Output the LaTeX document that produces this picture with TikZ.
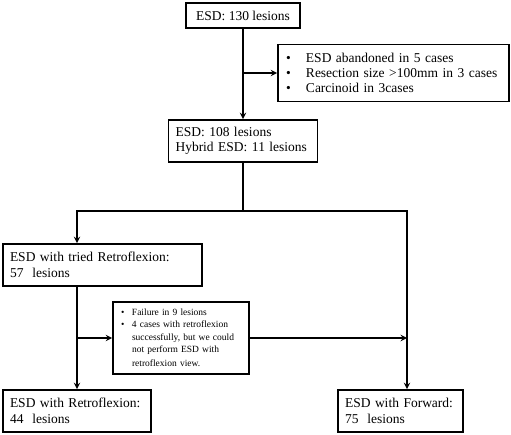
\documentclass[tikz,border=0pt]{standalone}
\usepackage{fontspec}
\setmainfont{Liberation Serif}
\usetikzlibrary{positioning}

\newcommand{\blt}{\makebox[20pt][l]{\textbullet}}
\newcommand{\sblt}{\makebox[11pt][l]{\textbullet}}

\begin{document}
\begin{tikzpicture}[x=1pt, y=-1pt, >=stealth, line width=1.8pt,
    stage/.style={draw, line width=1.8pt, inner xsep=7pt, inner ysep=2pt, align=left,
        font=\fontsize{13.5}{15.5}\selectfont},
    note/.style={draw, line width=1.8pt, inner xsep=8pt, inner ysep=2pt, align=left}]
\useasboundingbox (0,0) rectangle (511,435);

\node[stage, minimum width=114pt, minimum height=25pt] (all) at (243,15.5) {ESD: 130 lesions};
\node[note, minimum width=231pt, minimum height=57pt, text width=215pt,
    font=\fontsize{13.5}{15}\selectfont] (excl) at (393.5,73)
    {\blt ESD abandoned in 5 cases\\
     \blt Resection size >100mm in 3 cases\\
     \blt Carcinoid in 3cases};
\node[stage, minimum width=149pt, minimum height=42pt, text width=135pt] (esd) at (243,141)
    {ESD: 108 lesions\\Hybrid ESD: 11 lesions};
\node[stage, minimum width=199pt, minimum height=42pt, text width=185pt] (tried) at (102.5,265)
    {ESD with tried Retroflexion:\\57\ \ lesions};
\node[note, minimum width=136pt, minimum height=72pt, text width=120pt,
    font=\fontsize{9.5}{12.3}\selectfont] (fail) at (181,338)
    {\sblt Failure in 9 lesions\\
     \sblt 4 cases with retroflexion\\
     \hspace*{11pt}successfully, but we could\\
     \hspace*{11pt}not perform ESD with\\[2pt]
     \hspace*{11pt}retroflexion view.};
\node[stage, minimum width=148pt, minimum height=42pt, text width=134pt] (retro) at (77,411)
    {ESD with Retroflexion:\\44\ \ lesions};
\node[stage, minimum width=125pt, minimum height=42pt, text width=111pt] (fwd) at (400.5,411)
    {ESD with Forward:\\75\ \ lesions};

% junctions
\coordinate (split) at (243,211);
\coordinate (right) at (407,211);

\draw[->] (all) -- (esd);
\draw[->] (all |- excl) -- (excl);
\draw (esd) -- (split);
\draw[->] (split) -| (retro |- tried.north);
\draw[->] (split) -- (right) -- (right |- fwd.north);
\draw[->] (retro |- tried.south) -- (retro);
\draw[->] (retro |- fail) -- (fail);
\draw[->] (fail) -- (right |- fail);
\end{tikzpicture}
\end{document}
